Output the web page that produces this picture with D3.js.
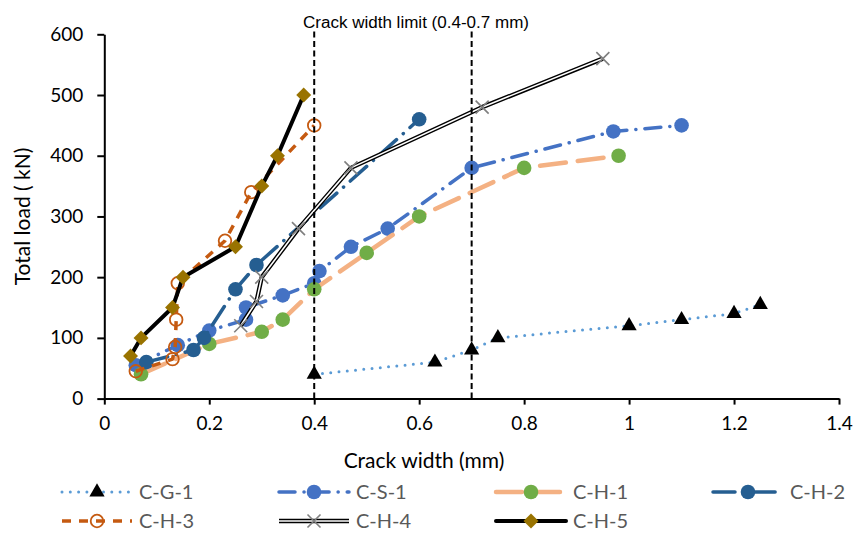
<!DOCTYPE html>
<html>
<head>
<meta charset="utf-8">
<script src="https://cdn.jsdelivr.net/npm/d3@7"></script>
<style>
  body { margin: 0; background: #fff; }
  svg { display: block; }
  .tick text { font-family: Lato, "Open Sans", sans-serif; }
</style>
</head>
<body>
<svg id="chart" width="856" height="534"></svg>
<script>
// Axis ticks
const xTicks = [0, 0.2, 0.4, 0.6, 0.8, 1, 1.2, 1.4];
const yTicks = [0, 100, 200, 300, 400, 500, 600];
const xLabel = "Crack width (mm)";
const yLabel = "Total load ( kN)";

// Crack width limit band edges (mm)
const limits = [0.4, 0.7];
const limitLabel = "Crack width limit (0.4-0.7 mm)";

// Series: [crack width (mm), total load (kN)]
const seriesNames = ["C-G-1", "C-S-1", "C-H-1", "C-H-2", "C-H-3", "C-H-4", "C-H-5"];
const cg1 = [[0.40, 40], [0.63, 60], [0.70, 80], [0.75, 100], [1.00, 120], [1.10, 130], [1.20, 140], [1.25, 155]];
const cs1 = [[0.06, 55], [0.14, 88], [0.20, 112], [0.27, 130], [0.27, 150], [0.34, 170], [0.40, 190], [0.41, 210], [0.47, 250], [0.54, 280], [0.70, 380], [0.97, 440], [1.10, 450]];
const ch1 = [[0.07, 40], [0.20, 90], [0.30, 110], [0.34, 130], [0.40, 180], [0.50, 240], [0.60, 300], [0.80, 380], [0.98, 400]];
const ch2 = [[0.08, 60], [0.17, 80], [0.19, 100], [0.25, 180], [0.29, 220], [0.60, 460]];
const ch3 = [[0.06, 45], [0.13, 65], [0.135, 85], [0.137, 130], [0.14, 190], [0.23, 260], [0.28, 340], [0.40, 450]];
const ch4 = [[0.26, 120], [0.29, 160], [0.30, 200], [0.37, 280], [0.47, 380], [0.72, 480], [0.95, 560]];
const ch5 = [[0.05, 70], [0.07, 100], [0.13, 150], [0.15, 200], [0.25, 250], [0.30, 350], [0.33, 400], [0.38, 500]];

const seriesData = [cg1, cs1, ch1, ch2, ch3, ch4, ch5];

// Drawing styles for each series
const styles = [
  { line: "#5B9BD5", width: 3, dash: "0 8.3", cap: "round", marker: "triangle", fill: "#000", stroke: "none" },
  { line: "#4472C4", width: 3.5, dash: "16 9 0.1 9", cap: "round", marker: "circle", fill: "#4472C4", stroke: "none" },
  { line: "#F4B183", width: 4.5, dash: "26 12", cap: "round", marker: "circle", fill: "#70AD47", stroke: "none" },
  { line: "#255E91", width: 3.5, dash: "22 9 0.1 9", cap: "round", marker: "circle", fill: "#255E91", stroke: "none" },
  { line: "#C55A11", width: 3.5, dash: "9 8", cap: "butt", marker: "ring", fill: "none", stroke: "#C55A11" },
  { line: "#000", width: 4.4, dash: null, cap: "butt", marker: "cross", fill: "none", stroke: "#7F7F7F", double: true },
  { line: "#000", width: 4, dash: null, cap: "round", marker: "diamond", fill: "#997300", stroke: "none" }
];

const svg = d3.select("#chart");
const margin = { left: 104.3, right: 17, top: 34.3, bottom: 135.4 };
const W = 856, H = 534;

const x = d3.scaleLinear().domain([0, 1.4]).range([margin.left, W - margin.right]);
const y = d3.scaleLinear().domain([0, 600]).range([H - margin.bottom, margin.top]);

// Axes
const gx = svg.append("g")
  .attr("transform", `translate(0,${y(0)})`)
  .call(d3.axisBottom(x).tickValues(xTicks).tickSize(6).tickSizeOuter(0).tickPadding(12)
    .tickFormat(d => d3.format("~g")(d)));
const gy = svg.append("g")
  .attr("transform", `translate(${x(0)},0)`)
  .call(d3.axisLeft(y).tickValues(yTicks).tickSize(7).tickSizeOuter(0).tickPadding(14));

[gx, gy].forEach(g => {
  g.select(".domain").attr("stroke", "#000").attr("stroke-width", 2);
  g.selectAll(".tick line").attr("stroke", "#000").attr("stroke-width", 2);
  g.selectAll(".tick text").attr("fill", "#000").attr("font-size", 19);
});

// Axis titles
svg.append("text")
  .attr("x", 424).attr("y", 468)
  .attr("text-anchor", "middle")
  .attr("font-family", "Lato, 'Open Sans', sans-serif")
  .attr("font-size", 21).attr("fill", "#000")
  .text(xLabel);
svg.append("text")
  .attr("transform", `translate(30,${(y(0) + y(600)) / 2}) rotate(-90)`)
  .attr("text-anchor", "middle")
  .attr("font-family", "Lato, 'Open Sans', sans-serif")
  .attr("font-size", 21).attr("fill", "#000")
  .text(yLabel);

// Marker shapes
function markerPath(kind) {
  if (kind === "triangle") return d3.symbol(d3.symbolTriangle, 100)();
  if (kind === "circle") return d3.symbol(d3.symbolCircle, Math.PI * 7.3 * 7.3)();
  if (kind === "ring") return d3.symbol(d3.symbolCircle, Math.PI * 6.3 * 6.3)();
  if (kind === "diamond") return d3.symbol(d3.symbolSquare, 112)();
  if (kind === "cross") { const s = 6.5; return `M${-s},${-s}L${s},${s}M${-s},${s}L${s},${-s}`; }
}

function drawMarker(g, kind, st, cx, cy) {
  const rot = kind === "diamond" ? " rotate(45)" : "";
  const p = g.append("path")
    .attr("d", markerPath(kind))
    .attr("transform", `translate(${cx},${cy})${rot}`)
    .attr("fill", st.fill);
  if (st.stroke !== "none") {
    p.attr("stroke", st.stroke).attr("stroke-width", kind === "ring" ? 1.8 : 1.6);
  }
}

function strokeLine(sel, st) {
  sel.attr("fill", "none")
    .attr("stroke", st.line)
    .attr("stroke-width", st.width)
    .attr("stroke-linecap", st.cap)
    .attr("stroke-linejoin", "round");
  if (st.dash) sel.attr("stroke-dasharray", st.dash);
}

const line = d3.line().x(d => x(d[0])).y(d => y(d[1]));

// Series lines and markers
const plot = svg.append("g");
seriesData.forEach((data, i) => {
  const st = styles[i];
  const g = plot.append("g");
  strokeLine(g.append("path").attr("d", line(data)), st);
  if (st.double) {
    g.append("path").attr("d", line(data))
      .attr("fill", "none").attr("stroke", "#fff")
      .attr("stroke-width", 1.6).attr("stroke-linejoin", "round");
  }
  data.forEach(d => drawMarker(g, st.marker, st, x(d[0]), y(d[1])));
});

// Crack width limit lines and caption
limits.forEach(v => {
  svg.append("line")
    .attr("x1", x(v)).attr("x2", x(v))
    .attr("y1", y(0)).attr("y2", y(600) - 4)
    .attr("stroke", "#000").attr("stroke-width", 2)
    .attr("stroke-dasharray", "6 3.5");
});
svg.append("text")
  .attr("x", 303).attr("y", 28)
  .attr("font-family", "'Liberation Sans', Arial, sans-serif")
  .attr("font-size", 16).attr("fill", "#000")
  .attr("textLength", 226).attr("lengthAdjust", "spacingAndGlyphs")
  .text(limitLabel);

// Legend
const legendCols = [62, 279, 496, 713];
const legendRows = [492, 521];
seriesNames.forEach((name, i) => {
  const st = styles[i];
  const x0 = legendCols[i % 4];
  const ly = legendRows[Math.floor(i / 4)];
  const g = svg.append("g");
  const ln = g.append("line").attr("x1", x0).attr("x2", x0 + 70).attr("y1", ly).attr("y2", ly);
  strokeLine(ln, st);
  if (st.double) {
    g.append("line").attr("x1", x0).attr("x2", x0 + 70).attr("y1", ly).attr("y2", ly)
      .attr("stroke", "#fff").attr("stroke-width", 1.6);
  }
  drawMarker(g, st.marker, st, x0 + 35, ly);
  g.append("text")
    .attr("x", x0 + 77).attr("y", ly)
    .attr("dy", "0.35em")
    .attr("font-family", "Lato, 'Open Sans', sans-serif")
    .attr("font-size", 20).attr("fill", "#595959")
    .text(name);
});
</script>
</body>
</html>
